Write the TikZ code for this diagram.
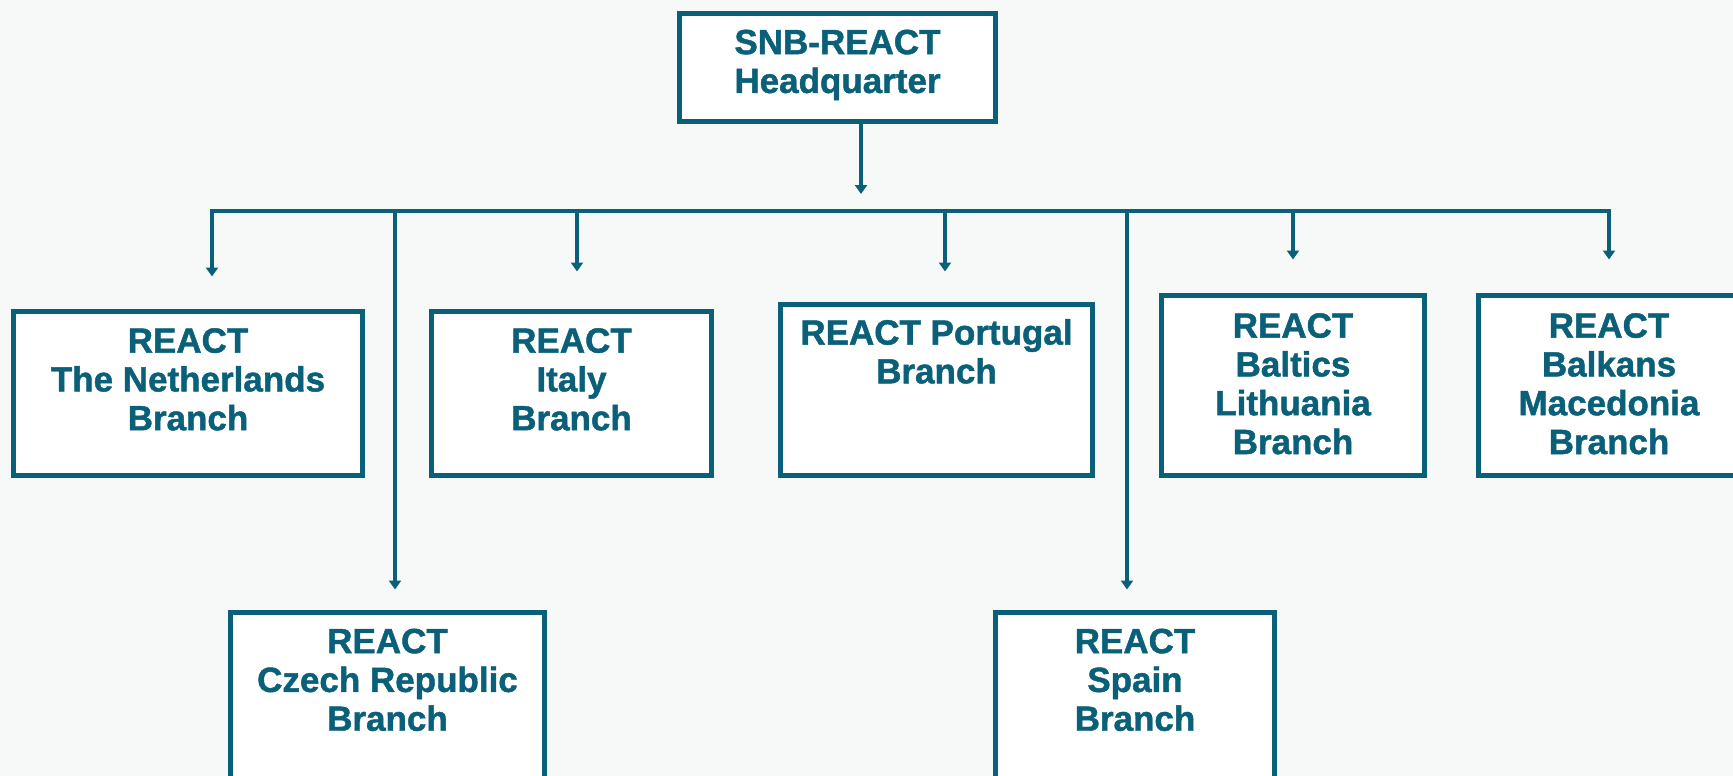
\documentclass[tikz,border=0pt]{standalone}
\usepackage{fontspec}
\setmainfont{Liberation Sans}
\newfontfamily\heavyfont{Liberation Sans}[BoldFeatures={FakeBold=1.3}]
\usetikzlibrary{arrows.meta}
\definecolor{reactblue}{RGB}{11,96,121}
\definecolor{bgcol}{RGB}{247,248,248}
\definecolor{shadowcol}{RGB}{190,196,198}
\begin{document}
\begin{tikzpicture}[x=1pt,y=-1pt,
  boxnode/.style={draw=reactblue, line width=5pt, fill=white, inner sep=0pt},
  lbl/.style={anchor=north, inner sep=0pt, align=center, text=reactblue,
              font=\heavyfont\bfseries\fontsize{35}{38.8}\selectfont},
  conn/.style={draw=reactblue, line width=4pt},
  arr/.style={conn, -{Triangle[width=12pt,length=9pt]}}]
\useasboundingbox (0,0) rectangle (1733,776);
\clip (0,0) rectangle (1733,776);
\fill[bgcol] (0,0) rectangle (1733,776);

% boxes
\node[boxnode, minimum width=316pt, minimum height=108pt] (hq) at (837.5,67.5) {};
\node[boxnode, minimum width=349pt, minimum height=164pt] (nl) at (188,393.5) {};
\node[boxnode, minimum width=280pt, minimum height=164pt] (it) at (571.5,393.5) {};
\node[boxnode, minimum width=312pt, minimum height=171pt] (pt) at (936.5,390) {};
\node[boxnode, minimum width=263pt, minimum height=180pt] (bl) at (1293,385.5) {};
\node[boxnode, minimum width=261pt, minimum height=180pt] (bk) at (1609,385.5) {};
\node[boxnode, minimum width=314pt, minimum height=185pt] (cz) at (387.5,705) {};
\node[boxnode, minimum width=279pt, minimum height=185pt] (es) at (1135,705) {};

% labels
\node[lbl] (hqt) at ([yshift=-18.5pt]hq.north) {SNB-REACT\\Headquarter};
\node[lbl] (nlt) at ([yshift=-19pt]nl.north) {REACT\\The Netherlands\\Branch};
\node[lbl] (itt) at ([yshift=-19pt]it.north) {REACT\\Italy\\Branch};
\node[lbl] (ptt) at ([yshift=-17pt]pt.north) {REACT Portugal\\Branch};
\node[lbl] (blt) at ([yshift=-20pt]bl.north) {REACT\\Baltics\\Lithuania\\Branch};
\node[lbl] (bkt) at ([yshift=-20pt]bk.north) {REACT\\Balkans\\Macedonia\\Branch};
\node[lbl] (czt) at ([yshift=-18.5pt]cz.north) {REACT\\Czech Republic\\Branch};
\node[lbl] (est) at ([yshift=-18.5pt]es.north) {REACT\\Spain\\Branch};

% connectors
\coordinate (hqtip) at (861,194);
\coordinate (jnl) at (212,211);
\coordinate (jcz) at (395,211);
\coordinate (jit) at (577,211);
\coordinate (jpt) at (945,211);
\coordinate (jes) at (1127,211);
\coordinate (jbl) at (1293,211);
\coordinate (jbk) at (1609,211);

\draw[arr] (hqtip |- hq.south) -- (hqtip);
\draw[conn, line cap=rect] (jnl) -- (jbk);
\draw[arr] (jnl) -- ([yshift=32.5pt]jnl |- nl.north);
\draw[arr] (jcz) -- ([yshift=20.5pt]jcz |- cz.north);
\draw[arr] (jit) -- ([yshift=37.5pt]jit |- it.north);
\draw[arr] (jpt) -- ([yshift=30.5pt]jpt |- pt.north);
\draw[arr] (jes) -- ([yshift=20.5pt]jes |- es.north);
\draw[arr] (jbl) -- ([yshift=33.5pt]jbl |- bl.north);
\draw[arr] (jbk) -- ([yshift=33.5pt]jbk |- bk.north);
\end{tikzpicture}
\end{document}
